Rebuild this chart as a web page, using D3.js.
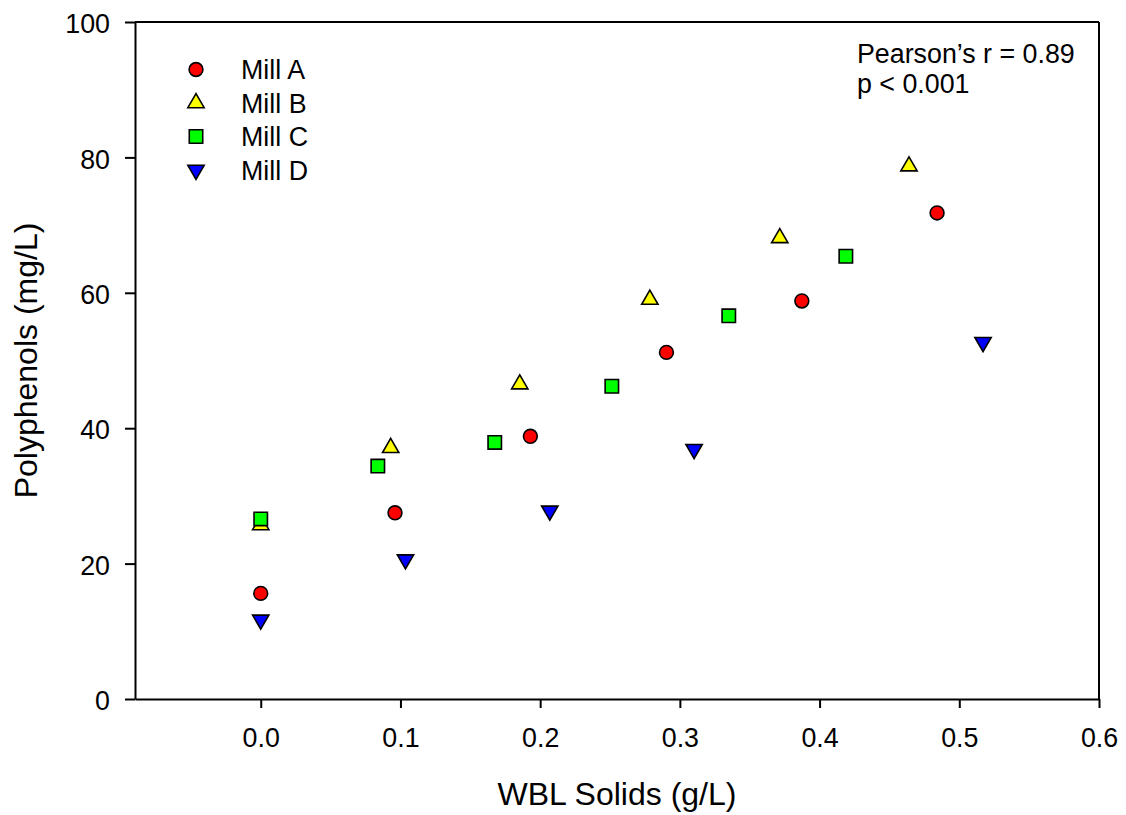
<!DOCTYPE html>
<html>
<head>
<meta charset="utf-8">
<script src="https://cdn.jsdelivr.net/npm/d3@7"></script>
<style>
  html, body { margin: 0; padding: 0; background: #ffffff; }
  svg { display: block; }
  text { font-family: "Liberation Sans", Arial, sans-serif; fill: #000; }
</style>
</head>
<body>
<svg id="chart" width="1126" height="815"></svg>
<script>
// ---- data ----
const millA_x = [0.000, 0.0961, 0.193, 0.2904, 0.3873, 0.4841];
const millA_y = [15.6, 27.5, 38.8, 51.2, 58.8, 71.8];
const millB_x = [0.000, 0.093, 0.1854, 0.2785, 0.3715, 0.464];
const millB_y = [25.7, 37.1, 46.5, 59.0, 68.1, 78.7];
const millC_x = [0.000, 0.0838, 0.1675, 0.2513, 0.335, 0.4188];
const millC_y = [26.6, 34.4, 37.9, 46.2, 56.6, 65.4];
const millD_x = [0.000, 0.1036, 0.2069, 0.3102, 0.517];
const millD_y = [11.7, 20.6, 27.8, 36.9, 52.7];

const seriesNames = ["Mill A", "Mill B", "Mill C", "Mill D"];
const seriesColors = ["#ff0000", "#ffff00", "#00ff00", "#0000ff"];
const xTicks = [0.0, 0.1, 0.2, 0.3, 0.4, 0.5, 0.6];
const yTicks = [0, 20, 40, 60, 80, 100];
const xTitle = "WBL Solids (g/L)";
const yTitle = "Polyphenols (mg/L)";
const statLines = ["Pearson\u2019s r = 0.89", "p < 0.001"];

// ---- layout ----
const svg = d3.select("#chart");
const x = d3.scaleLinear().domain([-0.09, 0.6]).range([135, 1099]);
const y = d3.scaleLinear().domain([0, 100]).range([699, 22]);

// custom symbols
const triUp = {
  draw(ctx, size) {
    const w = Math.sqrt(size) * 1.1, h = w * 0.866;
    ctx.moveTo(0, -2 * h / 3);
    ctx.lineTo(w / 2, h / 3);
    ctx.lineTo(-w / 2, h / 3);
    ctx.closePath();
  }
};
const triDown = {
  draw(ctx, size) {
    const w = Math.sqrt(size) * 1.1, h = w * 0.866;
    ctx.moveTo(0, 2 * h / 3);
    ctx.lineTo(w / 2, -h / 3);
    ctx.lineTo(-w / 2, -h / 3);
    ctx.closePath();
  }
};
const symbolTypes = [d3.symbolCircle, triUp, d3.symbolSquare, triDown];
const symbolSizes = [150, 220, 180, 220];

const series = [
  { xs: millA_x, ys: millA_y },
  { xs: millB_x, ys: millB_y },
  { xs: millC_x, ys: millC_y },
  { xs: millD_x, ys: millD_y }
];

// ---- axes ----
const fs = 26.8;
const xAxis = svg.append("g")
  .attr("transform", `translate(0,${y(0)})`)
  .call(d3.axisBottom(x).tickValues(xTicks).tickFormat(d3.format(".1f")).tickSize(9).tickSizeOuter(0));
const yAxis = svg.append("g")
  .attr("transform", `translate(${x(-0.09)},0)`)
  .call(d3.axisLeft(y).tickValues(yTicks).tickFormat(d3.format("d")).tickSize(10).tickSizeOuter(0));

[xAxis, yAxis].forEach(g => {
  g.select(".domain").attr("stroke", "#000").attr("stroke-width", 2);
  g.selectAll(".tick line").attr("stroke", "#000").attr("stroke-width", 2);
  g.selectAll(".tick text").attr("font-size", fs).attr("font-family", "'Liberation Sans', Arial, sans-serif").attr("fill", "#000");
});
xAxis.selectAll(".tick text").attr("dy", null).attr("y", 47.5);
yAxis.selectAll(".tick text").attr("dy", "0.4em").attr("x", -25);

// frame: top and right lines
svg.append("line")
  .attr("x1", x(-0.09)).attr("x2", x(0.6)).attr("y1", y(100)).attr("y2", y(100))
  .attr("stroke", "#000").attr("stroke-width", 2);
svg.append("line")
  .attr("x1", x(0.6)).attr("x2", x(0.6)).attr("y1", y(100)).attr("y2", y(0))
  .attr("stroke", "#000").attr("stroke-width", 2);

// ---- points ----
series.forEach((s, i) => {
  const pts = s.xs.map((v, j) => [v, s.ys[j]]);
  svg.append("g").selectAll("path").data(pts).join("path")
    .attr("transform", d => `translate(${x(d[0])},${y(d[1])})`)
    .attr("d", d3.symbol().type(symbolTypes[i]).size(symbolSizes[i]))
    .attr("fill", seriesColors[i])
    .attr("stroke", "#000")
    .attr("stroke-width", 1.6);
});

// ---- legend ----
const legRowsY = [69.5, 103, 136.5, 170];
const legend = svg.append("g");
seriesNames.forEach((name, i) => {
  legend.append("path")
    .attr("transform", `translate(196,${legRowsY[i]})`)
    .attr("d", d3.symbol().type(symbolTypes[i]).size(symbolSizes[i])())
    .attr("fill", seriesColors[i])
    .attr("stroke", "#000")
    .attr("stroke-width", 1.6);
  legend.append("text")
    .attr("x", 241)
    .attr("y", legRowsY[i] + 9.8)
    .attr("font-size", fs)
    .text(name);
});

// ---- stats annotation ----
statLines.forEach((t, i) => {
  svg.append("text")
    .attr("x", 857)
    .attr("y", 63.3 + i * 30)
    .attr("font-size", fs)
    .text(t);
});

// ---- axis titles ----
svg.append("text")
  .attr("x", (x(-0.09) + x(0.6)) / 2)
  .attr("y", 805)
  .attr("text-anchor", "middle")
  .attr("font-size", 32)
  .text(xTitle);
svg.append("text")
  .attr("transform", `translate(37,${(y(0) + y(100)) / 2}) rotate(-90)`)
  .attr("text-anchor", "middle")
  .attr("font-size", 32)
  .text(yTitle);
</script>
</body>
</html>
